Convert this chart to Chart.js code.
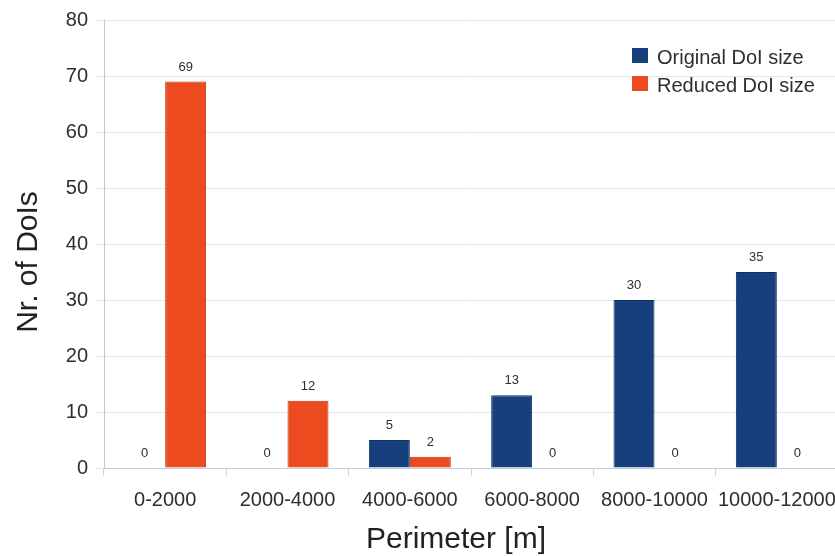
<!DOCTYPE html>
<html>
<head>
<meta charset="utf-8">
<script src="https://cdn.jsdelivr.net/npm/chart.js@4/dist/chart.umd.min.js"></script>
<style>
  html, body { margin: 0; padding: 0; background: #fff; overflow: hidden; }
  #wrap { width: 840px; height: 556px; }
</style>
</head>
<body>
<div id="wrap"><canvas id="chart" width="840" height="556"></canvas></div>
<script>
// data
const categories = ['0-2000', '2000-4000', '4000-6000', '6000-8000', '8000-10000', '10000-12000'];
const originalSize = [0, 0, 5, 13, 30, 35];
const reducedSize = [69, 12, 2, 0, 0, 0];
const seriesNames = ['Original DoI size', 'Reduced DoI size'];
const yTicks = [0, 10, 20, 30, 40, 50, 60, 70, 80];
const xTitle = 'Perimeter [m]';
const yTitle = 'Nr. of DoIs';

const blue = '#173f7e';
const orange = '#ee4a1f';
const textColor = '#2e2e2e';
const fontFamily = '"Liberation Sans", Arial, sans-serif';

// numbers on top of every bar
const valueLabels = {
  id: 'valueLabels',
  afterDatasetsDraw(chart) {
    const ctx = chart.ctx;
    ctx.save();
    ctx.font = '13px ' + fontFamily;
    ctx.fillStyle = textColor;
    ctx.textAlign = 'center';
    ctx.textBaseline = 'bottom';
    chart.data.datasets.forEach((ds, i) => {
      chart.getDatasetMeta(i).data.forEach((bar, j) => {
        ctx.fillText(ds.data[j], bar.x, bar.y - 8);
      });
    });
    ctx.restore();
  }
};

// legend inside the plot (top right) and the two axis titles
const extras = {
  id: 'extras',
  afterDraw(chart) {
    const ctx = chart.ctx;
    ctx.save();
    ctx.font = '20px ' + fontFamily;
    ctx.textBaseline = 'middle';
    chart.data.datasets.forEach((ds, i) => {
      const y = 56 + i * 28;
      ctx.fillStyle = ds.backgroundColor;
      ctx.fillRect(632, y - 8, 16, 15);
      ctx.fillStyle = textColor;
      ctx.fillText(ds.label, 657, y + 2);
    });

    ctx.font = '30px ' + fontFamily;
    ctx.fillStyle = '#222';
    ctx.textAlign = 'center';
    ctx.textBaseline = 'alphabetic';
    ctx.fillText(xTitle, 456, 548);

    ctx.translate(37, 262);
    ctx.rotate(-Math.PI / 2);
    ctx.fillText(yTitle, 0, 0);
    ctx.restore();
  }
};

new Chart(document.getElementById('chart'), {
  type: 'bar',
  data: {
    labels: categories,
    datasets: [
      { label: seriesNames[0], data: originalSize, backgroundColor: blue, borderColor: '#0f2f62', borderWidth: 1 },
      { label: seriesNames[1], data: reducedSize, backgroundColor: orange, borderColor: '#b83612', borderWidth: 1 }
    ]
  },
  options: {
    responsive: false,
    animation: false,
    layout: { padding: { top: 8, right: 2, left: 0, bottom: 0 } },
    datasets: { bar: { barPercentage: 1, categoryPercentage: 0.67 } },
    plugins: { legend: { display: false }, tooltip: { enabled: false } },
    scales: {
      x: {
        grid: { offset: true, drawOnChartArea: false, color: '#c8d6e4', tickLength: 8 },
        border: { color: '#b8cbe0' },
        ticks: { color: textColor, font: { family: fontFamily, size: 20 }, padding: 12, maxRotation: 0, autoSkip: false },
        afterFit(scale) {
          scale.height = 88;
          // the last label runs past the right edge, as in the picture
          scale.paddingRight = 0;
          scale.paddingLeft = 0;
        }
      },
      y: {
        min: 0,
        max: 80,
        afterBuildTicks(scale) { scale.ticks = yTicks.map(v => ({ value: v })); },
        grid: { color: '#dde7ef', tickLength: 8 },
        border: { color: '#b8cbe0' },
        ticks: { color: textColor, font: { family: fontFamily, size: 20 }, padding: 8 },
        afterFit(scale) { scale.width = 104; }
      }
    }
  },
  plugins: [valueLabels, extras]
});
</script>
</body>
</html>
